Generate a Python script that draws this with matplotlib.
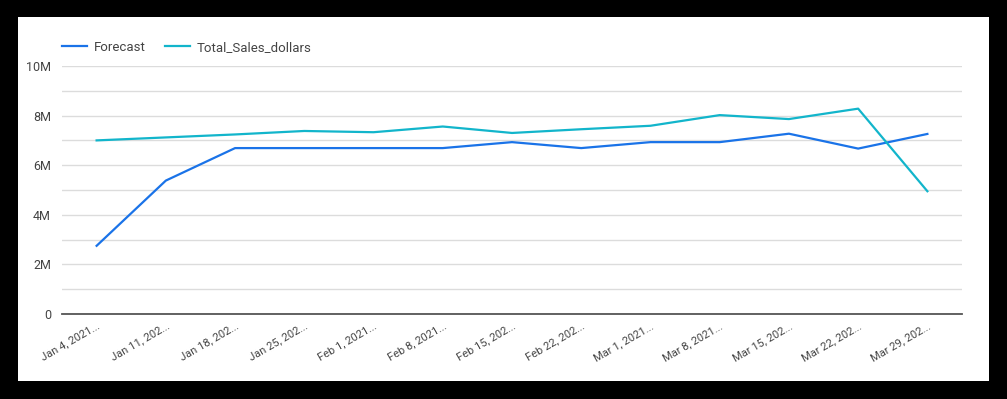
import matplotlib.pyplot as plt
from matplotlib.patches import Rectangle
from matplotlib.ticker import FuncFormatter, MultipleLocator

weeks = ['Jan 4, 2021...', 'Jan 11, 202...', 'Jan 18, 202...', 'Jan 25, 202...',
         'Feb 1, 2021...', 'Feb 8, 2021...', 'Feb 15, 202...', 'Feb 22, 202...',
         'Mar 1, 2021...', 'Mar 8, 2021...', 'Mar 15, 202...', 'Mar 22, 202...',
         'Mar 29, 202...']
forecast = [2.75e6, 5.38e6, 6.69e6, 6.69e6, 6.69e6, 6.69e6, 6.93e6, 6.69e6,
            6.93e6, 6.93e6, 7.27e6, 6.67e6, 7.26e6]
total_sales = [7.0e6, 7.12e6, 7.24e6, 7.38e6, 7.33e6, 7.56e6, 7.30e6, 7.45e6,
               7.59e6, 8.02e6, 7.86e6, 8.28e6, 4.95e6]

plt.rcParams['font.family'] = ['Roboto', 'DejaVu Sans']

fig = plt.figure(figsize=(10.07, 3.99), dpi=100, facecolor='black')
fig.patches.append(Rectangle((18 / 1007, 18 / 399), 971 / 1007, 364 / 399,
                             transform=fig.transFigure, facecolor='white',
                             edgecolor='none', zorder=-10))

ax = fig.add_axes([62 / 1007, 85 / 399, 900 / 1007, 248 / 399])
ax.set_facecolor('none')
x = range(len(weeks))
ax.plot(x, forecast, color='#1a73e8', lw=1.6, label='Forecast')
ax.plot(x, total_sales, color='#12b5cb', lw=1.6, label='Total_Sales_dollars')

ax.set_xlim(-0.5, len(weeks) - 0.5)
ax.set_ylim(0, 10e6)
ax.yaxis.set_major_locator(MultipleLocator(2e6))
ax.yaxis.set_minor_locator(MultipleLocator(1e6))
ax.yaxis.set_major_formatter(FuncFormatter(lambda v, p: '0' if v == 0 else f'{v/1e6:.0f}M'))
ax.grid(axis='y', which='both', color='#dcdcdc', lw=1)
ax.set_axisbelow(True)
for s in ['top', 'right', 'left']:
    ax.spines[s].set_visible(False)
ax.spines['bottom'].set_color('#555555')
ax.spines['bottom'].set_linewidth(1.3)
ax.tick_params(axis='both', which='both', length=0, colors='#444444')
ax.tick_params(axis='y', labelsize=9, pad=8)
ax.set_xticks(list(x))
ax.set_xticklabels(weeks, rotation=30, ha='right', rotation_mode='anchor', fontsize=8)
ax.tick_params(axis='x', pad=5)

fig.legend(loc='upper left', bbox_to_anchor=(50 / 1007, 1 - 29 / 399), ncol=2,
           frameon=False, fontsize=9.5, handlelength=1.9, handletextpad=0.5,
           columnspacing=1.5, labelcolor='#444444')

fig.savefig('out.png', dpi=100, facecolor='black')
